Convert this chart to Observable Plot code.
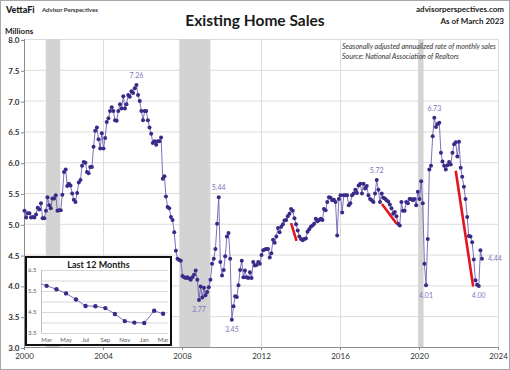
<!DOCTYPE html>
<html><head><meta charset="utf-8">
<script src="https://cdn.jsdelivr.net/npm/d3@7"></script>
<script src="https://cdn.jsdelivr.net/npm/@observablehq/plot@0.6"></script>
<style>
html,body{margin:0;padding:0;background:#fff;}
#wrap{position:relative;width:510px;height:370px;overflow:hidden;font-family:Lato,"Open Sans",sans-serif;background:#fff}
#wrap svg{position:absolute;overflow:visible}
.t{position:absolute;white-space:nowrap;color:#1a1a1a;line-height:1}
#frame{position:absolute;left:0;top:0;width:510px;height:370px;box-sizing:border-box;border:1px solid #a8a8a8;pointer-events:none}
#insetBg{position:absolute;left:25px;top:256px;width:147px;height:90px;background:#fff}
#insetBox{position:absolute;left:25px;top:256px;width:147px;height:90px;box-sizing:border-box;border:2px solid #111;}
</style></head><body>
<div id="wrap">
  <div id="main"></div>
  <div id="insetBg"></div>
  <div id="inset"></div>
  <div id="insetBox"></div>
  <div class="t" style="left:6px;top:5px;font-size:9px;font-weight:900;">VettaFi</div>
  <div class="t" style="left:42px;top:7px;font-size:6px;font-weight:700;color:#333">Advisor Perspectives</div>
  <div class="t" id="title" style="left:0;width:510px;text-align:center;top:13px;font-size:15.5px;font-weight:700;">Existing Home Sales</div>
  <div class="t" style="right:6px;top:5px;font-size:8px;font-weight:700;">advisorperspectives.com</div>
  <div class="t" style="right:6px;top:17px;font-size:8px;font-weight:700;">As of March 2023</div>
  <div class="t" style="left:5px;top:27px;font-size:8px;font-weight:700;">Millions</div>
  <div class="t" style="left:342px;top:43px;font-size:7.1px;font-style:italic;color:#333">Seasonally adjusted annualized rate of monthly sales</div>
  <div class="t" style="left:342px;top:53px;font-size:7.1px;font-style:italic;color:#333">Source: National Association of Realtors</div>
  <div class="t" style="left:25px;width:147px;text-align:center;top:260px;font-size:9px;font-weight:700;">Last 12 Months</div>
  <div id="frame"></div>
</div>
<script>
// Monthly existing home sales, millions (SAAR), starting January 2000
const sales2000s = [
  5.22, 5.11, 5.18, 5.18, 5.11, 5.12, 5.11, 5.16, 5.27, 5.24, 5.34, 5.10, // 2000
  5.10, 5.22, 5.44, 5.31, 5.26, 5.42, 5.42, 5.47, 5.22, 5.23, 5.23, 5.48, // 2001
  5.85, 5.89, 5.62, 5.66, 5.63, 5.50, 5.40, 5.36, 5.51, 5.68, 5.72, 5.95, // 2002
  6.01, 6.00, 5.85, 5.83, 5.93, 5.93, 6.26, 6.52, 6.57, 6.38, 6.23, 6.48, // 2003
  6.23, 6.40, 6.66, 6.72, 6.84, 6.90, 6.84, 6.69, 6.68, 6.84, 6.95, 6.88, // 2004
  7.08, 6.88, 6.95, 7.10, 7.07, 7.16, 7.13, 7.21, 7.26, 7.10, 7.00, 6.84, // 2005
  6.69, 6.84, 6.84, 6.69, 6.57, 6.47, 6.32, 6.35, 6.29, 6.35, 6.35, 6.41, // 2006
  5.74, 5.78, 5.45, 5.28, 5.26, 5.12, 5.07, 4.87, 4.57, 4.44, 4.42, 4.41, // 2007
  4.16, 4.14, 4.13, 4.14, 4.12, 4.10, 4.14, 4.18, 4.25, 4.10, 3.77, 3.99, // 2008
  3.81, 3.97, 3.85, 3.90, 3.98, 4.10, 4.36, 4.44, 4.60, 5.01, 5.44, 4.39  // 2009
];
const sales2010s = [
  4.17, 4.26, 4.48, 4.80, 4.86, 4.44, 3.45, 3.67, 3.83, 3.82, 4.01, 4.26, // 2010
  4.41, 4.14, 4.25, 4.14, 4.13, 4.22, 4.13, 4.39, 4.33, 4.34, 4.39, 4.36, // 2011
  4.50, 4.58, 4.59, 4.60, 4.60, 4.46, 4.53, 4.75, 4.70, 4.80, 4.94, 4.87, // 2012
  4.96, 5.00, 5.06, 5.07, 5.13, 5.17, 5.25, 5.22, 5.10, 5.00, 4.90, 4.80, // 2013
  4.76, 4.74, 4.76, 4.77, 4.88, 4.92, 4.96, 4.98, 5.01, 5.09, 5.05, 5.07, // 2014
  5.09, 5.07, 5.25, 5.23, 5.36, 5.44, 5.43, 5.39, 5.40, 5.36, 4.82, 5.41, // 2015
  5.47, 5.19, 5.47, 5.47, 5.47, 5.31, 5.34, 5.47, 5.50, 5.56, 5.51, 5.63, // 2016
  5.66, 5.50, 5.66, 5.58, 5.62, 5.47, 5.41, 5.39, 5.36, 5.50, 5.72, 5.56, // 2017
  5.36, 5.50, 5.43, 5.42, 5.39, 5.37, 5.32, 5.26, 5.17, 5.20, 5.13, 5.01, // 2018
  4.98, 5.36, 5.22, 5.22, 5.36, 5.34, 5.41, 5.41, 5.39, 5.41, 5.31, 5.53  // 2019
];
const sales2020s = [
  5.41, 5.70, 5.34, 4.36, 4.01, 4.76, 5.89, 5.95, 6.43, 6.73, 6.58, 6.63, // 2020
  6.65, 6.16, 6.02, 5.95, 5.89, 5.96, 6.01, 5.97, 6.16, 6.30, 6.33, 6.10, // 2021
  6.34, 5.92, 5.77, 5.61, 5.41, 5.12, 4.81, 4.80, 4.71, 4.43, 4.09, 4.02, // 2022
  4.00, 4.58, 4.44                                                        // 2023
];
// Recession shading (start, end)
const recessions = [
  ["2001-02-06", "2001-11-01"],
  ["2007-11-12", "2009-06-08"],
  ["2019-12-16", "2020-03-25"]
];
// Red trend annotations: [start date, start value, end date, end value]
const trendLines = [
  ["2013-07-01", 5.02, "2013-10-10", 4.73],
  ["2018-02-05", 5.33, "2018-11-05", 5.01],
  ["2021-11-01", 5.87, "2022-09-20", 3.99]
];
// Labelled months
const labelsAbove = ["2005-09", "2009-11", "2017-11", "2020-10"];
const labelsBelow = ["2008-11", "2010-07", "2020-05", "2023-01"];
const labelsRight = ["2023-03"];
// Axis ticks
const yTicks = [3.0, 3.5, 4.0, 4.5, 5.0, 5.5, 6.0, 6.5, 7.0, 7.5, 8.0];
const xTickYears = [2000, 2004, 2008, 2012, 2016, 2020, 2024];
// Inset: last months (Feb 2022 - Mar 2023)
const insetStart = "2022-02";
const insetYTicks = [3.5, 4.5, 5.5, 6.5];
const insetGrid = [3.5, 4.0, 4.5, 5.0, 5.5, 6.0, 6.5];

const values = [...sales2000s, ...sales2010s, ...sales2020s];
const data = values.map((v, i) => ({date: new Date(Date.UTC(2000, i, 1)), v}));
const key = d => d.date.toISOString().slice(0, 7);
const pick = list => data.filter(d => list.includes(key(d)));
const rec = recessions.map(([s, e]) => ({s: new Date(s), e: new Date(e)}));
const trends = trendLines.map(([a, av, b, bv]) => ({a: new Date(a), av, b: new Date(b), bv}));
const xTicks = xTickYears.map(y => new Date(Date.UTC(y, 0, 1)));
const x0 = xTicks[0], x1 = xTicks[xTicks.length - 1];

const lineColor = "#6d62b3", dotColor = "#3a2a88", labColor = "#7d74bb";

const main = Plot.plot({
  width: 510, height: 370,
  marginLeft: 24, marginRight: 12, marginTop: 39, marginBottom: 23,
  x: {type: "utc", domain: [x0, x1], label: null},
  y: {domain: [3, 8], label: null},
  style: {fontFamily: "Lato, sans-serif", background: "transparent", color: "#404040"},
  marks: [
    Plot.ruleY(yTicks.slice(1), {stroke: "#dcdcdc", strokeWidth: 1}),
    Plot.ruleX(xTicks.slice(1), {stroke: "#dcdcdc", strokeWidth: 1}),
    Plot.rect(rec, {x1: "s", x2: "e", fill: "#d3d3d3"}),
    Plot.ruleX([x0], {stroke: "#8c8c8c"}),
    Plot.ruleY([3], {stroke: "#8c8c8c"}),
    Plot.line(data, {x: "date", y: "v", stroke: lineColor, strokeWidth: 0.9}),
    Plot.dot(data, {x: "date", y: "v", r: 2, fill: dotColor, stroke: null}),
    Plot.link(trends, {x1: "a", y1: "av", x2: "b", y2: "bv", stroke: "#e3141f", strokeWidth: 2.6}),
    Plot.text(pick(labelsAbove), {x: "date", y: "v", text: d => d.v.toFixed(2), dy: -9, fill: labColor, fontSize: 7}),
    Plot.text(pick(labelsBelow), {x: "date", y: "v", text: d => d.v.toFixed(2), dy: 10, fill: labColor, fontSize: 7}),
    Plot.text(pick(labelsRight), {x: "date", y: "v", text: d => d.v.toFixed(2), dx: 6, textAnchor: "start", fill: labColor, fontSize: 7}),
    Plot.axisY(yTicks, {tickFormat: d3.format(".1f"), fontWeight: "bold", fontSize: 8, tickSize: 3, tickPadding: 2, dy: 1, stroke: "#8c8c8c", fill: "#333"}),
    Plot.axisX(xTicks, {tickFormat: d3.utcFormat("%Y"), fontSize: 8, tickSize: 3, tickPadding: 3, stroke: "#8c8c8c", fill: "#333"})
  ]
});
main.style.left = "0px"; main.style.top = "0px";
document.getElementById("main").appendChild(main);

const insetData = data.filter(d => key(d) >= insetStart);
const insetFirst = insetData.slice(1);
const ix0 = new Date(Date.UTC(2022, 1, 13)), ix1 = new Date(Date.UTC(2023, 2, 18));
const inset = Plot.plot({
  width: 147, height: 90,
  marginLeft: 16, marginRight: 4, marginTop: 14, marginBottom: 13,
  x: {type: "utc", domain: [ix0, ix1], label: null},
  y: {domain: [3.5, 6.5], label: null},
  style: {fontFamily: "Lato, sans-serif", background: "transparent", color: "#595959"},
  marks: [
    Plot.ruleY(insetGrid, {stroke: "#d9d9d9"}),
    Plot.ruleX([ix0], {stroke: "#bfbfbf"}),
    Plot.line(insetData, {x: "date", y: "v", stroke: lineColor, strokeWidth: 0.9, clip: true}),
    Plot.dot(insetFirst, {x: "date", y: "v", r: 2.2, fill: dotColor, stroke: null}),
    Plot.axisY(insetYTicks, {tickFormat: d3.format(".1f"), fontSize: 6, tickSize: 0, tickPadding: 5, fill: "#595959"}),
    Plot.axisX(insetFirst.filter((d, i) => i % 2 === 0).map(d => d.date), {tickFormat: d3.utcFormat("%b"), fontSize: 6, tickSize: 0, tickPadding: 4, fill: "#595959"})
  ]
});
inset.style.left = "25px"; inset.style.top = "256px";
document.getElementById("inset").appendChild(inset);
</script>
</body></html>
